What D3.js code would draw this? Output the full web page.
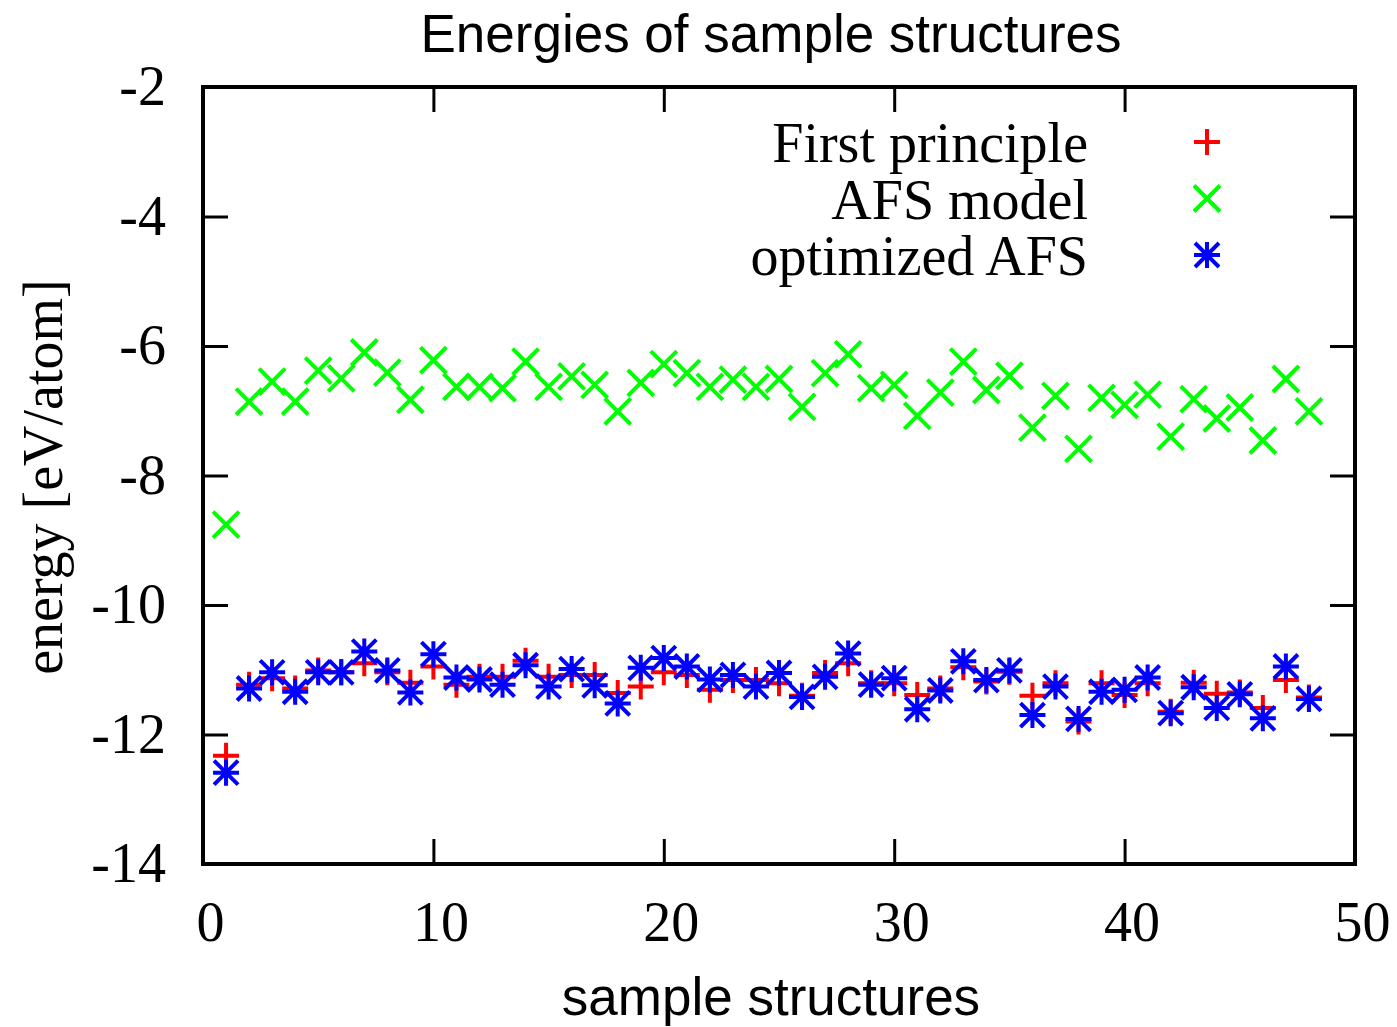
<!DOCTYPE html>
<html lang="en">
<head>
  <meta charset="utf-8">
  <title>Energies of sample structures</title>
  <script src="https://cdnjs.cloudflare.com/ajax/libs/d3/7.8.5/d3.min.js"></script>
  <style>
    body { margin: 0; background: #fff; }
    .serif { font-family: "Liberation Serif", "Times New Roman", serif; }
    .sans { font-family: "Liberation Sans", Arial, sans-serif; }
  </style>
</head>
<body>
<svg id="chart"></svg>
<script>
// sample structure index
var structures = [1, 2, 3, 4, 5, 6, 7, 8, 9, 10, 11, 12, 13, 14, 15, 16,
  17, 18, 19, 20, 21, 22, 23, 24, 25, 26, 27, 28, 29, 30, 31, 32,
  33, 34, 35, 36, 37, 38, 39, 40, 41, 42, 43, 44, 45, 46, 47, 48];

// energies [eV/atom]
var firstPrinciple = [-12.33, -11.23, -11.13, -11.29, -11.01, -11.04, -10.90, -11.04,
  -11.20, -10.95, -11.23, -11.11, -11.11, -10.86, -11.11, -11.08,
  -11.08, -11.36, -11.26, -11.04, -11.08, -11.31, -11.16, -11.16,
  -11.21, -11.40, -11.05, -10.90, -11.21, -11.21, -11.39, -11.29,
  -10.96, -11.18, -11.03, -11.40, -11.21, -11.80, -11.21, -11.39,
  -11.21, -11.65, -11.20, -11.37, -11.35, -11.59, -11.16, -11.43];

var afsModel = [-8.76, -6.86, -6.55, -6.86, -6.38, -6.50, -6.10, -6.41,
  -6.83, -6.22, -6.63, -6.63, -6.65, -6.24, -6.63, -6.47,
  -6.60, -7.01, -6.57, -6.28, -6.42, -6.63, -6.52, -6.63,
  -6.51, -6.94, -6.42, -6.13, -6.65, -6.60, -7.08, -6.72,
  -6.24, -6.68, -6.46, -7.26, -6.77, -7.59, -6.80, -6.91,
  -6.75, -7.40, -6.82, -7.12, -6.95, -7.46, -6.51, -7.01];

var optimizedAfs = [-12.59, -11.29, -11.04, -11.34, -11.04, -11.04, -10.72, -11.01,
  -11.35, -10.76, -11.12, -11.15, -11.23, -10.93, -11.26, -10.99,
  -11.24, -11.52, -10.97, -10.82, -10.95, -11.15, -11.08, -11.26,
  -11.05, -11.42, -11.11, -10.75, -11.23, -11.13, -11.61, -11.32,
  -10.87, -11.16, -11.01, -11.70, -11.26, -11.76, -11.34, -11.31,
  -11.12, -11.67, -11.27, -11.59, -11.38, -11.75, -10.95, -11.45];

var xTicks = [0, 10, 20, 30, 40, 50];
var yTicks = [-2, -4, -6, -8, -10, -12, -14];

var w = 1397, h = 1027;
var plotLeft = 203, plotRight = 1355, plotTop = 87, plotBottom = 864;
var tick = 25;

var svg = d3.select("#chart").attr("width", w).attr("height", h);

var xScale = d3.scaleLinear().domain([0, 50]).range([plotLeft, plotRight]);
var yScale = d3.scaleLinear().domain([-14, -2]).range([plotBottom, plotTop]);

// plain hyphen for negatives, like gnuplot
var fmt = function(d) { return String(d); };

// marker shapes (gnuplot point types 1, 2, 3)
var plusPath = "M-13,0H13M0,-13V13";
var crossPath = "M-13,-13L13,13M-13,13L13,-13";
var starPath = "M-13,0H13M0,-13V13M-12,-12L12,12M-12,12L12,-12";

var series = [
  { name: "First principle", values: firstPrinciple, color: "#ff0000", shape: plusPath },
  { name: "AFS model", values: afsModel, color: "#00ff00", shape: crossPath },
  { name: "optimized AFS", values: optimizedAfs, color: "#0000ff", shape: starPath }
];

//axes with inward ticks
function styleAxis(g) {
  g.select(".domain").remove();
  g.selectAll(".tick line").attr("stroke", "#000").attr("stroke-width", 3);
  g.attr("font-family", null).attr("font-size", null);
}

svg.append("g")
  .attr("transform", "translate(0," + plotBottom + ")")
  .call(d3.axisBottom(xScale).tickValues(xTicks).tickFormat(fmt).tickSize(-tick).tickPadding(37))
  .call(styleAxis)
  .call(function(g) {
    g.selectAll("text").attr("class", "serif").attr("dx", 7)
      .style("font-size", "56px").attr("fill", "#000");
  });

svg.append("g")
  .attr("transform", "translate(0," + plotTop + ")")
  .call(d3.axisTop(xScale).tickValues(xTicks).tickSize(-tick).tickFormat(""))
  .call(styleAxis);

svg.append("g")
  .attr("transform", "translate(" + plotLeft + ",0)")
  .call(d3.axisLeft(yScale).tickValues(yTicks).tickFormat(fmt).tickSize(-tick).tickPadding(37))
  .call(styleAxis)
  .call(function(g) {
    g.selectAll("text").attr("class", "serif")
      .style("font-size", "56px").attr("fill", "#000");
  });

svg.append("g")
  .attr("transform", "translate(" + plotRight + ",0)")
  .call(d3.axisRight(yScale).tickValues(yTicks).tickSize(-tick).tickFormat(""))
  .call(styleAxis);

// frame
svg.append("rect")
  .attr("x", plotLeft).attr("y", plotTop)
  .attr("width", plotRight - plotLeft).attr("height", plotBottom - plotTop)
  .attr("fill", "none").attr("stroke", "#000").attr("stroke-width", 4);

// points
series.forEach(function(s) {
  svg.append("g").selectAll("path")
    .data(s.values)
    .enter().append("path")
    .attr("d", s.shape)
    .attr("transform", function(d, i) {
      return "translate(" + xScale(structures[i]) + "," + yScale(d) + ")";
    })
    .attr("fill", "none")
    .attr("stroke", s.color)
    .attr("stroke-width", 4);
});

// legend
var legend = svg.append("g").attr("transform", "translate(1088,162)");
series.forEach(function(s, i) {
  var row = legend.append("g").attr("transform", "translate(0," + (i * 56.5) + ")");
  row.append("text")
    .attr("class", "serif")
    .attr("text-anchor", "end")
    .style("font-size", "56px")
    .text(s.name);
  row.append("path")
    .attr("d", s.shape)
    .attr("transform", "translate(119,-20)")
    .attr("fill", "none")
    .attr("stroke", s.color)
    .attr("stroke-width", 4);
});

//title
svg.append("text")
  .attr("class", "sans")
  .attr("x", 771).attr("y", 52)
  .attr("text-anchor", "middle")
  .style("font-size", "53px")
  .text("Energies of sample structures");

//x label
svg.append("text")
  .attr("class", "sans")
  .attr("x", 771).attr("y", 1015)
  .attr("text-anchor", "middle")
  .style("font-size", "53px")
  .text("sample structures");

//y label
svg.append("text")
  .attr("class", "serif")
  .attr("transform", "translate(62,477) rotate(-90)")
  .attr("text-anchor", "middle")
  .style("font-size", "56px")
  .text("energy [eV/atom]");
</script>
</body>
</html>
